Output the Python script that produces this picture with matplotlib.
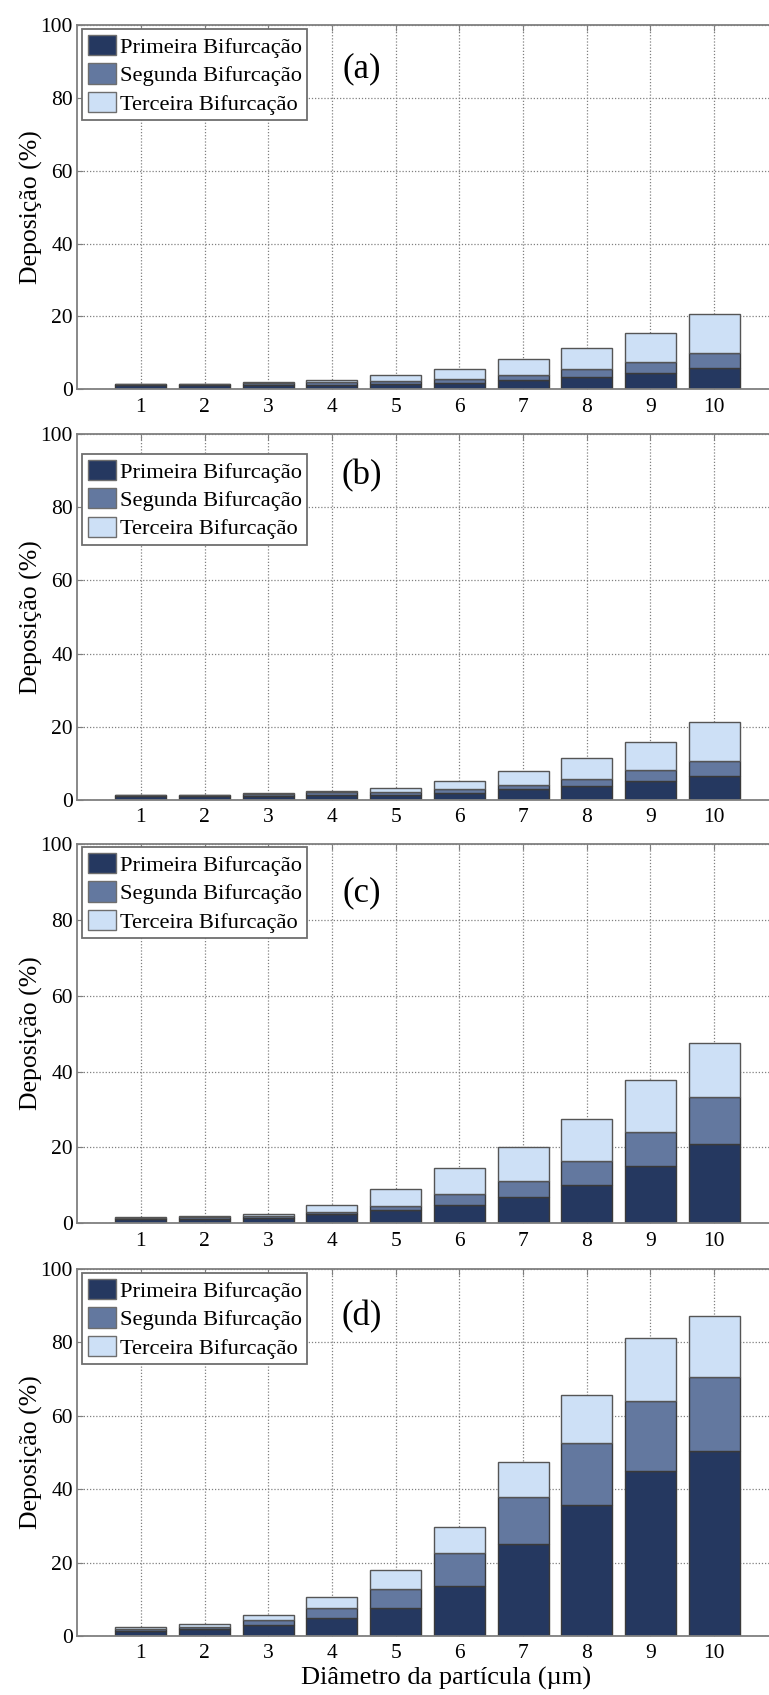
import numpy as np
import matplotlib
matplotlib.use("Agg")
import matplotlib.pyplot as plt

plt.rcParams['font.family'] = ['Liberation Serif', 'DejaVu Serif']

diametro = [1, 2, 3, 4, 5, 6, 7, 8, 9, 10]
series_names = ["Primeira Bifurcação", "Segunda Bifurcação", "Terceira Bifurcação"]

# deposição (%) por bifurcação, painéis (a)-(d)
prim_a = [1.2, 1.2, 1.2, 1.3, 1.5, 1.7, 2.6, 3.4, 4.5, 5.9]
seg_a = [0.15, 0.15, 0.5, 0.7, 0.8, 1.1, 1.4, 2.2, 3.1, 4.1]
ter_a = [0.15, 0.15, 0.3, 0.7, 1.5, 2.7, 4.2, 5.7, 8.0, 10.7]

prim_b = [1.2, 1.2, 1.2, 1.4, 1.4, 1.9, 3.0, 3.9, 5.1, 6.6]
seg_b = [0.15, 0.15, 0.4, 0.7, 0.7, 1.0, 1.1, 1.9, 3.0, 4.2]
ter_b = [0.15, 0.15, 0.4, 0.5, 1.3, 2.3, 3.7, 5.8, 7.7, 10.6]

prim_c = [1.05, 1.15, 1.3, 2.4, 3.5, 4.9, 6.9, 10.2, 15.0, 21.0]
seg_c = [0.25, 0.45, 0.6, 0.7, 1.05, 2.7, 4.3, 6.1, 9.0, 12.2]
ter_c = [0.45, 0.4, 0.6, 1.8, 4.45, 7.0, 8.9, 11.2, 13.7, 14.2]

prim_d = [1.5, 1.8, 3.0, 5.0, 7.6, 13.5, 25.2, 35.6, 45.0, 50.5]
seg_d = [0.5, 0.65, 1.5, 2.6, 5.3, 9.0, 12.8, 17.1, 19.0, 20.0]
ter_d = [0.45, 0.75, 1.2, 3.1, 5.0, 7.1, 9.4, 13.1, 17.2, 16.7]

panels = [
    ("(a)", prim_a, seg_a, ter_a),
    ("(b)", prim_b, seg_b, ter_b),
    ("(c)", prim_c, seg_c, ter_c),
    ("(d)", prim_d, seg_d, ter_d),
]

colors = ['#253860', '#63789f', '#cde0f6']

# axes boxes in figure fraction [left, bottom, width, height]
boxes = [
    [0.1003, 0.7703, 0.9112, 0.2149],
    [0.1003, 0.5280, 0.9112, 0.2159],
    [0.1003, 0.2783, 0.9112, 0.2238],
    [0.1003, 0.0348, 0.9112, 0.2165],
]
legend_y = [0.988, 0.945, 0.991, 0.988]
tag_y = [88, 88.5, 87, 87]

fig = plt.figure(figsize=(7.69, 16.95), dpi=100)

for i, (tag, prim, seg, ter) in enumerate(panels):
    ax = fig.add_axes(boxes[i])
    x = np.array(diametro)
    prim = np.array(prim)
    seg = np.array(seg)
    ter = np.array(ter)
    ax.bar(x, prim, width=0.8, color=colors[0], edgecolor='#3a3a3a', linewidth=1.0,
           label=series_names[0], zorder=2)
    ax.bar(x, seg, width=0.8, bottom=prim, color=colors[1], edgecolor='#3a3a3a',
           linewidth=1.0, label=series_names[1], zorder=2)
    ax.bar(x, ter, width=0.8, bottom=prim + seg, color=colors[2], edgecolor='#555555',
           linewidth=1.0, label=series_names[2], zorder=2)

    ax.set_xlim(0, 11)
    ax.set_ylim(0, 100)
    ax.set_xticks(diametro)
    ax.set_yticks([0, 20, 40, 60, 80, 100])
    ax.set_axisbelow(True)
    ax.grid(True, linestyle=(0, (1, 1.5)), color='#808080', linewidth=0.9)
    ax.tick_params(direction='in', top=True, right=False, length=4, color='#7f7f7f',
                   labelsize=15.5, pad=6)
    ax.tick_params(axis='y', pad=3)
    for s in ax.spines.values():
        s.set_color('#7f7f7f')
        s.set_linewidth(1.3)

    ax.set_ylabel("Deposição (%)", fontsize=18.5)
    ax.yaxis.label.set_va('center')
    ax.yaxis.set_label_coords(-0.065, 0.5)

    ax.text(4.47, tag_y[i], tag, fontsize=25, ha='center', va='center')

    leg = ax.legend(loc='upper left', bbox_to_anchor=(0.007, legend_y[i]),
                    borderaxespad=0, fontsize=16.2, fancybox=False,
                    handlelength=1.28, handleheight=1.0, handletextpad=0.15,
                    labelspacing=0.25, borderpad=0.25, framealpha=1)
    leg.get_frame().set_edgecolor('#6e6e6e')
    leg.get_frame().set_linewidth(1.3)
    for h in leg.legend_handles:
        h.set_edgecolor('#6e6e6e')

    if i == 3:
        ax.set_xlabel("Diâmetro da partícula (µm)", fontsize=19)
        ax.xaxis.label.set_va('center')
        ax.xaxis.set_label_coords(0.5265, -0.117)

fig.savefig("out.png", dpi=100)
